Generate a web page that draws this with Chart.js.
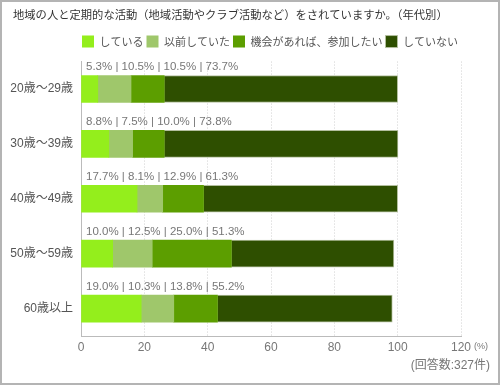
<!DOCTYPE html>
<html lang="ja">
<head>
    <meta charset="UTF-8">
    <title>地域の人と定期的な活動（年代別）</title>
    <style>
        body {
            margin: 0;
            padding: 0;
            background-color: #ffffff;
        }
        .chart-box {
            width: 500px;
            height: 385px;
        }
    </style>
</head>
<body>
    <div class="chart-box">
        <canvas id="ageChart" width="500" height="385"></canvas>
    </div>

    <script src="https://cdn.jsdelivr.net/npm/chart.js"></script>
    <script>
        // data (%)
        const ageGroups = ['20歳～29歳', '30歳～39歳', '40歳～49歳', '50歳～59歳', '60歳以上'];
        const doing     = [5.3, 8.8, 17.7, 10.0, 19.0];
        const didBefore = [10.5, 7.5, 8.1, 12.5, 10.3];
        const wouldJoin = [10.5, 10.0, 12.9, 25.0, 13.8];
        const notDoing  = [73.7, 73.8, 61.3, 51.3, 55.2];
        const seriesNames = ['している', '以前していた', '機会があれば、参加したい', 'していない'];
        const xTicks = [0, 20, 40, 60, 80, 100, 120];

        const FONT = "'Liberation Sans', 'Noto Sans CJK JP', sans-serif";
        const JP = "'Noto Sans CJK JP', sans-serif";

        // white background + grey frame
        const frame = {
            id: 'frame',
            beforeDraw(chart) {
                const ctx = chart.ctx;
                ctx.save();
                ctx.fillStyle = '#fff';
                ctx.fillRect(0, 0, chart.width, chart.height);
                ctx.restore();
            },
            afterDraw(chart) {
                const ctx = chart.ctx;
                ctx.save();
                ctx.strokeStyle = '#b4b4b4';
                ctx.lineWidth = 2;
                ctx.strokeRect(1, 1, chart.width - 2, chart.height - 2);

                // unit and sample size
                const xs = chart.scales.x;
                ctx.fillStyle = '#777';
                ctx.textBaseline = 'middle';
                ctx.font = '9px ' + FONT;
                ctx.textAlign = 'left';
                ctx.fillText('(%)', xs.right + 13, xs.top + 11);
                ctx.font = '12px ' + FONT;
                ctx.textAlign = 'right';
                ctx.fillText('(回答数:327件)', chart.width - 10, xs.top + 30);
                ctx.restore();
            }
        };

        // "a% | b% | c% | d%" above each bar
        const rowLabels = {
            id: 'rowLabels',
            afterDatasetsDraw(chart) {
                const ctx = chart.ctx;
                const xs = chart.scales.x;
                const sets = chart.data.datasets;
                ctx.save();
                ctx.fillStyle = '#777';
                ctx.font = '11.5px ' + FONT;
                ctx.textAlign = 'left';
                ctx.textBaseline = 'middle';
                ageGroups.forEach(function (g, i) {
                    const bar = chart.getDatasetMeta(0).data[i];
                    const top = bar.y - bar.height / 2;
                    const txt = sets.map(function (d) { return d.data[i].toFixed(1) + '%'; }).join(' | ');
                    ctx.fillText(txt, xs.getPixelForValue(0) + 5, top - 8.5);
                });
                ctx.restore();
            }
        };

        // header tweaks: more room under the legend, nudge title/legend sideways
        const header = {
            id: 'header',
            beforeInit(chart) {
                const lg = chart.legend;
                if (!lg) return;
                const fit = lg.fit;
                lg.fit = function () {
                    fit.call(lg);
                    lg.height += 4;
                };
            },
            afterLayout(chart) {
                if (chart.titleBlock) chart.titleBlock.left += 3;
                if (chart.legend) {
                    chart.legend.left = chart.scales.x.left - 2;
                    chart.legend.right = chart.width;
                }
            }
        };

        const ctx = document.getElementById('ageChart').getContext('2d');
        new Chart(ctx, {
            type: 'bar',
            data: {
                labels: ageGroups,
                datasets: [
                    { label: seriesNames[0], data: doing, backgroundColor: '#94ee1c', borderWidth: 0 },
                    { label: seriesNames[1], data: didBefore, backgroundColor: '#9fc76b', borderWidth: 0 },
                    { label: seriesNames[2], data: wouldJoin, backgroundColor: '#5c9e00', borderWidth: 0 },
                    { label: seriesNames[3], data: notDoing, backgroundColor: '#2e4f00', borderColor: '#b3bf9e', borderWidth: 1 }
                ]
            },
            plugins: [header, frame, rowLabels],
            options: {
                indexAxis: 'y',
                responsive: false,
                animation: false,
                layout: { padding: { left: 10, right: 39, top: 0, bottom: 0 } },
                datasets: { bar: { barThickness: 27 } },
                plugins: {
                    tooltip: { enabled: false },
                    title: {
                        display: true,
                        align: 'start',
                        text: '地域の人と定期的な活動（地域活動やクラブ活動など）をされていますか。（年代別）',
                        color: '#333',
                        font: { family: JP, size: 11.3, weight: 'normal' },
                        padding: { top: 8, bottom: 11 }
                    },
                    legend: {
                        position: 'top',
                        align: 'start',
                        labels: {
                            boxWidth: 12,
                            boxHeight: 12,
                            padding: 3,
                            color: '#555',
                            font: { family: JP, size: 11 }
                        }
                    }
                },
                scales: {
                    x: {
                        stacked: true,
                        min: 0,
                        max: 120,
                        afterBuildTicks: function (s) {
                            s.ticks = xTicks.map(function (v) { return { value: v }; });
                        },
                        afterFit: function (s) { s.height = 49; },
                        grid: { color: '#d0d0d0', lineWidth: 1, drawTicks: false },
                        border: { display: true, color: '#bbb', width: 1, dash: [1, 2] },
                        ticks: { color: '#777', padding: 4, font: { family: FONT, size: 12 } }
                    },
                    y: {
                        stacked: true,
                        afterFit: function (s) { s.width = 71; },
                        grid: { display: false, drawTicks: false },
                        border: { display: true, color: '#bbb', width: 1 },
                        ticks: { color: '#555', padding: 8, font: { family: FONT, size: 12 } }
                    }
                }
            }
        });
    </script>
</body>
</html>
